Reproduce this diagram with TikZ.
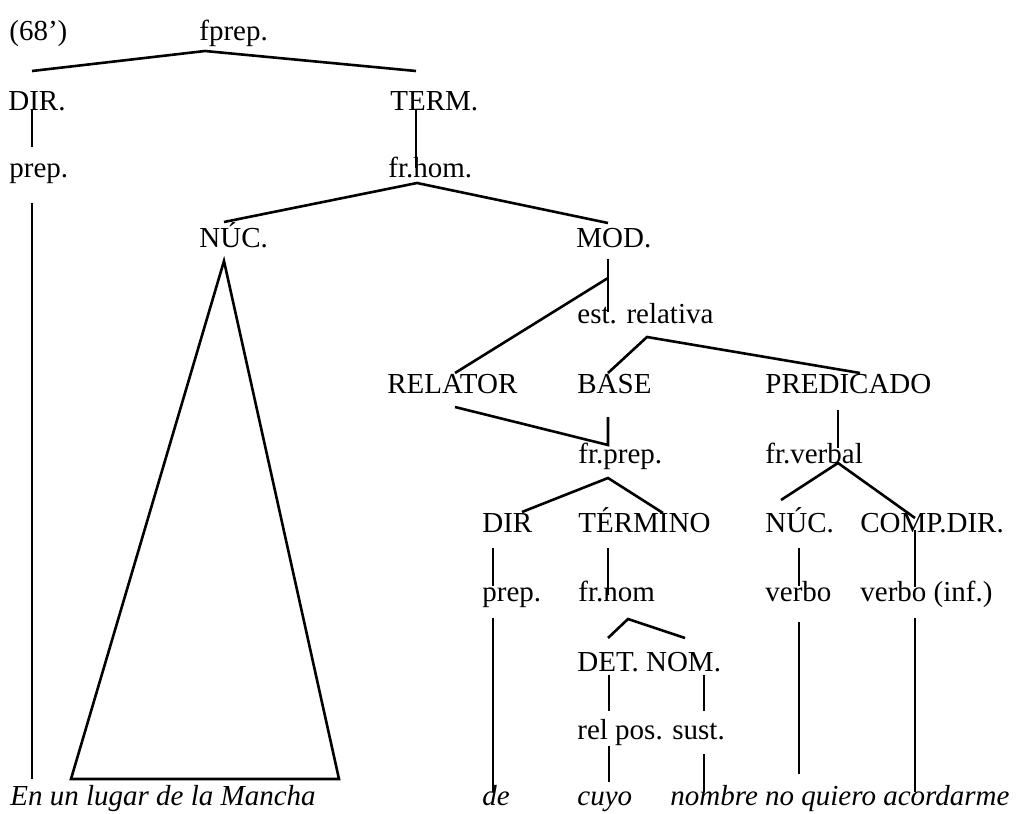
\documentclass[tikz,border=0pt]{standalone}
\usepackage{fontspec}
\setmainfont{Liberation Serif}
\begin{document}
\begin{tikzpicture}[x=0.5pt,y=-0.5pt,
  lbl/.style={anchor=base west, inner sep=0pt, font=\fontsize{14.5}{17}\selectfont},
  ital/.style={anchor=base west, inner sep=0pt, font=\fontsize{14.5}{17}\selectfont\itshape},
  edge/.style={line width=1.3pt, line join=miter}]
\useasboundingbox (0,0) rectangle (1019,814);
% labels
\node[lbl] (n68) at (9,40) {(68’)};
\node[lbl] (fprep) at (199,40) {fprep.};
\node[lbl] (dir1) at (8,110) {DIR.};
\node[lbl] (term1) at (390,110) {TERM.};
\node[lbl] (prep1) at (9,177) {prep.};
\node[lbl] (frhom) at (388,177) {fr.hom.};
\node[lbl] (nuc1) at (199,247) {NÚC.};
\node[lbl] (mod) at (576,247) {MOD.};
\node[lbl] (estrel) at (577,323) {est. relativa};
\node[lbl] (relator) at (387,393) {RELATOR};
\node[lbl] (base) at (577,393) {BASE};
\node[lbl] (pred) at (765,393) {PREDICADO};
\node[lbl] (frprep) at (578,463) {fr.prep.};
\node[lbl] (frverbal) at (765,463) {fr.verbal};
\node[lbl] (dir2) at (482,532) {DIR};
\node[lbl] (termino) at (578,532) {TÉRMINO};
\node[lbl] (nuc2) at (765,532) {NÚC.};
\node[lbl] (compdir) at (860,532) {COMP.DIR.};
\node[lbl] (prep2) at (482,601) {prep.};
\node[lbl] (frnom) at (578,601) {fr.nom};
\node[lbl] (verbo) at (765,601) {verbo};
\node[lbl] (verboinf) at (860,601) {verbo (inf.)};
\node[lbl] (detnom) at (577,671) {DET. NOM.};
\node[lbl] (relpos) at (577,739) {rel pos. sust.};
\node[ital] (w1) at (10,805) {En un lugar de la Mancha};
\node[ital] (w2) at (482,805) {de};
\node[ital] (w3) at (577,805) {cuyo};
\node[ital] (w4) at (670,805) {nombre no quiero acordarme};
% line end points
\coordinate (a1) at (32,71); \coordinate (a2) at (205,51); \coordinate (a3) at (416,71);
\coordinate (b1) at (32,110); \coordinate (b2) at (32,147);
\coordinate (c1) at (416,110); \coordinate (c2) at (416,168);
\coordinate (d1) at (224,222); \coordinate (d2) at (417,183); \coordinate (d3) at (608,223);
\coordinate (t1) at (224,261); \coordinate (t2) at (339,779); \coordinate (t3) at (71,779);
\coordinate (e1) at (32,203); \coordinate (e2) at (32,779);
\coordinate (f1) at (608,259); \coordinate (f2) at (608,312);
\coordinate (g1) at (608,278); \coordinate (g2) at (455,373);
\coordinate (h1) at (608,373); \coordinate (h2) at (647,337); \coordinate (h3) at (860,373);
\coordinate (i1) at (455,407); \coordinate (i2) at (608,445); \coordinate (i3) at (608,417);
\coordinate (j1) at (838,410); \coordinate (j2) at (838,448);
\coordinate (k1) at (522,512); \coordinate (k2) at (608,478); \coordinate (k3) at (663,513);
\coordinate (l1) at (781,500); \coordinate (l2) at (838,463); \coordinate (l3) at (915,518);
\coordinate (m1) at (493,548); \coordinate (m2) at (493,586);
\coordinate (m3) at (608,548); \coordinate (m4) at (608,595);
\coordinate (m5) at (799,548); \coordinate (m6) at (799,586);
\coordinate (m7) at (915,530); \coordinate (m8) at (915,587);
\coordinate (n1) at (608,638); \coordinate (n2) at (628,619); \coordinate (n3) at (685,638);
\coordinate (o1) at (609,675); \coordinate (o2) at (609,711);
\coordinate (o3) at (704,675); \coordinate (o4) at (704,711);
\coordinate (p1) at (609,746); \coordinate (p2) at (609,782);
\coordinate (p3) at (704,754); \coordinate (p4) at (704,792);
\coordinate (q1) at (493,618); \coordinate (q2) at (493,792);
\coordinate (q3) at (799,622); \coordinate (q4) at (799,774);
\coordinate (q5) at (915,618); \coordinate (q6) at (915,792);
% connectors
\draw[edge] (a1) -- (a2) -- (a3);
\draw[edge] (b1) -- (b2);
\draw[edge] (c1) -- (c2);
\draw[edge] (d1) -- (d2) -- (d3);
\draw[edge] (t1) -- (t2) -- (t3) -- cycle;
\draw[edge] (e1) -- (e2);
\draw[edge] (f1) -- (f2);
\draw[edge] (g1) -- (g2);
\draw[edge] (h1) -- (h2) -- (h3);
\draw[edge] (i1) -- (i2) -- (i3);
\draw[edge] (j1) -- (j2);
\draw[edge] (k1) -- (k2) -- (k3);
\draw[edge] (l1) -- (l2) -- (l3);
\draw[edge] (m1) -- (m2);
\draw[edge] (m3) -- (m4);
\draw[edge] (m5) -- (m6);
\draw[edge] (m7) -- (m8);
\draw[edge] (n1) -- (n2) -- (n3);
\draw[edge] (o1) -- (o2);
\draw[edge] (o3) -- (o4);
\draw[edge] (p1) -- (p2);
\draw[edge] (p3) -- (p4);
\draw[edge] (q1) -- (q2);
\draw[edge] (q3) -- (q4);
\draw[edge] (q5) -- (q6);
\end{tikzpicture}
\end{document}
